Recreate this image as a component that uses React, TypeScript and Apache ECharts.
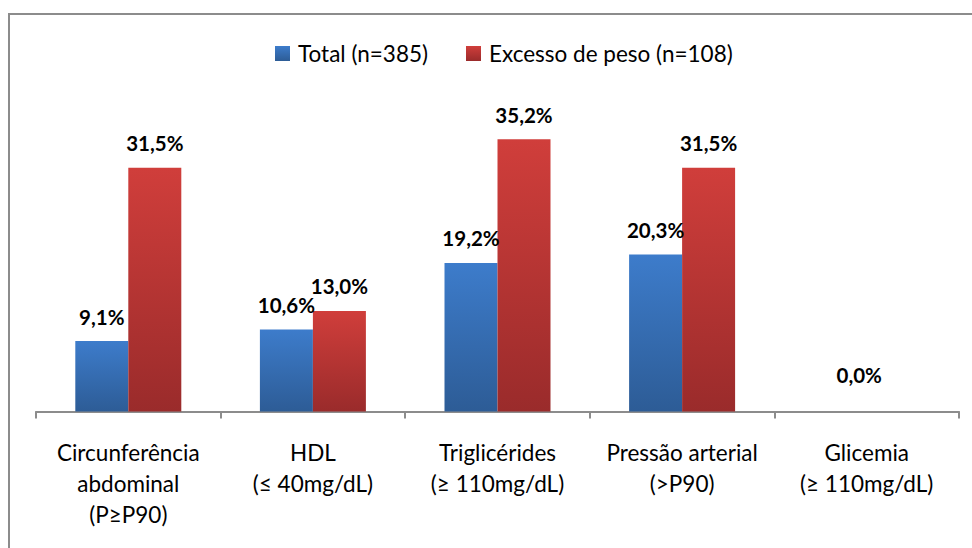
import React, { useEffect, useRef } from "react";
import * as echarts from "echarts";

const categories = [
  "Circunferência\nabdominal\n(P≥P90)",
  "HDL\n(≤ 40mg/dL)",
  "Triglicérides\n(≥ 110mg/dL)",
  "Pressão arterial\n(>P90)",
  "Glicemia\n(≥ 110mg/dL)",
];
const totalValues = [9.1, 10.6, 19.2, 20.3, 0];
const excessoValues = [31.5, 13.0, 35.2, 31.5, 0];
const seriesNames = ["Total (n=385)", "Excesso de peso (n=108)"];

const FONT = "Lato";

const fmt = (v: number) => v.toFixed(1).replace(".", ",") + "%";

export default function App() {
  const ref = useRef<HTMLDivElement>(null);
  useEffect(() => {
    if (!ref.current) return;
    document.body.style.margin = "0";
    const chart = echarts.init(ref.current, undefined, { renderer: "svg" });
    const blueGrad = new echarts.graphic.LinearGradient(0, 0, 0, 1, [
      { offset: 0, color: "#3d7ccb" },
      { offset: 1, color: "#2d5c96" },
    ]);
    const redGrad = new echarts.graphic.LinearGradient(0, 0, 0, 1, [
      { offset: 0, color: "#d03e3b" },
      { offset: 1, color: "#9a2b2b" },
    ]);
    const labelBase = {
      show: true,
      position: "top" as const,
      distance: 14,
      fontFamily: FONT,
      fontWeight: "bold" as const,
      fontSize: 20.5,
      color: "#000",
      formatter: (p: any) => fmt(p.value),
    };
    chart.setOption({
      animation: false,
      backgroundColor: "#fff",
      graphic: [
        {
          type: "rect",
          shape: { x: 9, y: 14, width: 1200, height: 1200 },
          style: { fill: "none", stroke: "#8c8c8c", lineWidth: 2 },
          silent: true,
        },
      ],
      legend: {
        top: 37,
        left: 270,
        itemWidth: 15,
        itemHeight: 15,
        itemGap: 38,
        icon: "rect",
        textStyle: {
          fontFamily: FONT,
          fontSize: 22.5,
          color: "#000",
          padding: [0, 0, 0, 3],
        },
        data: seriesNames,
      },
      grid: { left: 36, right: 13, top: 102, bottom: 136.5, containLabel: false },
      xAxis: {
        type: "category",
        data: categories,
        axisLine: { lineStyle: { color: "#8c8c8c", width: 2 } },
        axisTick: { show: true, length: 7, lineStyle: { color: "#8c8c8c", width: 2 } },
        axisLabel: {
          interval: 0,
          margin: 25,
          fontFamily: FONT,
          fontSize: 22.5,
          lineHeight: 31,
          color: "#000",
        },
      },
      yAxis: {
        type: "value",
        min: 0,
        max: 40,
        show: false,
        splitLine: { show: false },
      },
      series: [
        {
          name: seriesNames[0],
          type: "bar",
          barWidth: 53,
          barGap: "0%",
          itemStyle: { color: blueGrad },
          label: {
            ...labelBase,
            formatter: (p: any) => (p.dataIndex === 4 ? "" : fmt(p.value)),
          },
          data: totalValues,
        },
        {
          name: seriesNames[1],
          type: "bar",
          barWidth: 53,
          barGap: "0%",
          itemStyle: { color: redGrad },
          label: labelBase,
          data: excessoValues.map((v, i) =>
            i === 4 ? { value: v, label: { offset: [-34, -12] } } : v
          ),
        },
      ],
    });
    return () => chart.dispose();
  }, []);
  return <div ref={ref} style={{ width: 972, height: 548 }} />;
}
